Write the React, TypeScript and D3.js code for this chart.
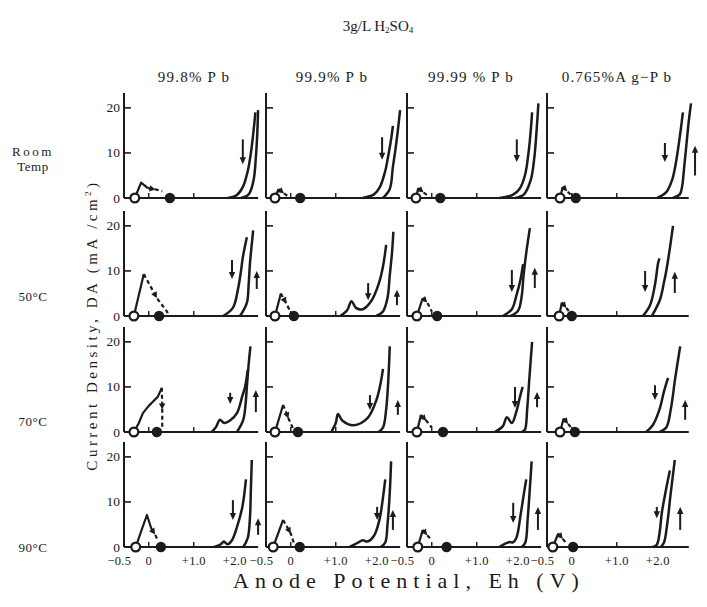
import * as d3 from "d3";

// column / row headings
const alloys = ["99.8% P b", "99.9% P b", "99.99 % P b", "0.765%A g−P b"];
const temps = [["Room", "Temp"], ["50°C"], ["70°C"], ["90°C"]];
const yTicks = [0, 10, 20];
const xTicks = [-0.5, 0, 1.0, 2.0];
const xTickLabels = ["−0.5", "0", "+1.0", "+2.0"];

type Pt = [number, number];

// start potential (open circle) and end potential (filled circle), [row][col]
const openE = [
  [-0.31, -0.35, -0.35, -0.26],
  [-0.33, -0.35, -0.33, -0.28],
  [-0.33, -0.35, -0.33, -0.26],
  [-0.29, -0.39, -0.31, -0.42],
];
const filledE = [
  [0.47, 0.21, 0.19, 0.09],
  [0.23, 0.07, 0.12, 0.0],
  [0.18, 0.16, 0.25, 0.07],
  [0.27, 0.2, 0.33, 0.03],
];

// low potential oxidation peak: solid rising part, dashed falling part
const peakRise: Pt[][][] = [
  [
    [[-0.31, 0], [-0.17, 3.4], [-0.02, 2.2]],
    [[-0.35, 0], [-0.27, 2.0]],
    [[-0.35, 0], [-0.3, 2.2]],
    [[-0.26, 0], [-0.2, 2.5]],
  ],
  [
    [[-0.33, 0], [-0.11, 9.3]],
    [[-0.35, 0], [-0.22, 5.0]],
    [[-0.33, 0], [-0.2, 4.0]],
    [[-0.28, 0], [-0.22, 3.0]],
  ],
  [
    [[-0.33, 0], [-0.22, 2.0], [-0.13, 4.2], [0.0, 5.8], [0.09, 6.7], [0.2, 7.8], [0.29, 9.8]],
    [[-0.35, 0], [-0.17, 6.0]],
    [[-0.33, 0], [-0.24, 3.8]],
    [[-0.26, 0], [-0.18, 3.0]],
  ],
  [
    [[-0.29, 0], [-0.15, 4.0], [-0.04, 7.1], [0.06, 4.0]],
    [[-0.39, 0], [-0.17, 6.0]],
    [[-0.31, 0], [-0.2, 3.8]],
    [[-0.42, 0], [-0.3, 3.0]],
  ],
];
const peakFall: Pt[][][] = [
  [
    [[-0.02, 2.2], [0.15, 1.9], [0.3, 1.5]],
    [[-0.27, 2.0], [-0.15, 1.0], [-0.05, 0.3]],
    [[-0.3, 2.2], [-0.18, 1.2], [-0.05, 0.3]],
    [[-0.2, 2.5], [-0.1, 1.5], [0.0, 0.5]],
  ],
  [
    [[-0.11, 9.3], [0.18, 4.0], [0.41, 0.9], [0.43, 0]],
    [[-0.22, 5.0], [-0.1, 2.8], [0.0, 0.8]],
    [[-0.2, 4.0], [-0.1, 3.0], [0.0, 1.0]],
    [[-0.22, 3.0], [-0.12, 1.8], [-0.02, 0.5]],
  ],
  [
    [[0.29, 9.8], [0.3, 5.0], [0.3, 1.0]],
    [[-0.17, 6.0], [-0.05, 3.0], [0.05, 0.8]],
    [[-0.24, 3.8], [-0.12, 2.5], [0.0, 1.0]],
    [[-0.18, 3.0], [-0.08, 1.8], [0.02, 0.5]],
  ],
  [
    [[0.06, 4.0], [0.14, 2.8], [0.2, 1.5]],
    [[-0.17, 6.0], [0.0, 3.0], [0.08, 0.5]],
    [[-0.2, 3.8], [-0.1, 2.6], [0.0, 1.5]],
    [[-0.3, 3.0], [-0.2, 1.8], [-0.1, 0.6]],
  ],
];

// oxygen evolution region, reverse (left) and forward (right) sweeps
const reverseSweep: Pt[][][] = [
  [
    [[1.75, 0], [1.95, 0.6], [2.09, 2.4], [2.2, 6], [2.27, 10], [2.33, 15], [2.37, 19]],
    [[1.6, 0], [1.85, 0.8], [1.98, 2.4], [2.1, 6], [2.16, 9], [2.23, 13], [2.27, 16]],
    [[1.5, 0], [1.8, 0.7], [1.95, 2], [2.07, 5], [2.15, 10], [2.2, 15], [2.23, 19]],
    [[1.9, 0], [2.1, 1.3], [2.23, 4], [2.3, 7], [2.36, 10.7], [2.42, 15], [2.47, 19]],
  ],
  [
    [[1.65, 0], [1.87, 1.8], [1.98, 5.8], [2.05, 10], [2.09, 13], [2.18, 17.5]],
    [[1.1, 0], [1.25, 1.2], [1.35, 3.3], [1.45, 1.8], [1.6, 1.5], [1.8, 3.5], [1.95, 7], [2.05, 11], [2.12, 15.8]],
    [[1.58, 0], [1.78, 1.5], [1.88, 4.5], [1.97, 8], [2.03, 11.5]],
    [[1.58, 0], [1.74, 2.4], [1.85, 7], [1.92, 11.8], [1.95, 12.8]],
  ],
  [
    [[1.4, 0], [1.5, 1.2], [1.58, 2.7], [1.68, 2], [1.8, 2.5], [1.96, 4.2], [2.08, 8], [2.14, 10], [2.2, 13.8]],
    [[0.9, 0], [1.0, 2], [1.05, 4], [1.15, 2.5], [1.4, 1.5], [1.7, 3], [1.9, 7], [2.0, 11], [2.05, 14]],
    [[1.4, 0], [1.58, 1.3], [1.67, 3.3], [1.78, 2.0], [1.88, 4.5], [1.96, 7.8], [2.02, 10]],
    [[1.65, 0], [1.8, 1.5], [1.95, 5], [2.05, 9], [2.14, 12]],
  ],
  [
    [[1.45, 0], [1.6, 0.6], [1.67, 1.2], [1.75, 0.6], [1.85, 1.5], [1.96, 4.4], [2.08, 8.9], [2.16, 15]],
    [[1.3, 0], [1.5, 1.0], [1.6, 1.5], [1.7, 1.2], [1.85, 2.5], [1.97, 6], [2.05, 11], [2.1, 15]],
    [[1.5, 0], [1.73, 1.1], [1.8, 1], [1.88, 2], [1.98, 7.5], [2.05, 12], [2.1, 15]],
    [[1.8, 0], [1.89, 0.5], [1.95, 3], [2.0, 7.5], [2.08, 12], [2.18, 17]],
  ],
];
const forwardSweep: Pt[][][] = [
  [
    [[2.05, 0], [2.22, 0.8], [2.33, 4], [2.38, 9], [2.41, 14], [2.43, 19.5]],
    [[2.05, 0], [2.2, 2], [2.27, 6.9], [2.33, 11], [2.38, 15], [2.43, 19.5]],
    [[1.85, 0], [2.05, 0.8], [2.2, 4], [2.28, 9], [2.33, 15], [2.37, 21]],
    [[2.25, 0], [2.4, 0.8], [2.45, 2.4], [2.5, 7], [2.55, 12], [2.6, 17], [2.65, 21]],
  ],
  [
    [[2.03, 0], [2.18, 2.9], [2.22, 7], [2.25, 11.8], [2.29, 16], [2.32, 19]],
    [[1.9, 0], [2.05, 1], [2.15, 4], [2.2, 9], [2.25, 14], [2.28, 18.7]],
    [[1.75, 0], [1.92, 1.2], [2.0, 4.5], [2.04, 9], [2.1, 14], [2.18, 19.5]],
    [[1.78, 0], [1.96, 3.6], [2.05, 7.5], [2.1, 10], [2.18, 15], [2.25, 20]],
  ],
  [
    [[1.96, 0], [2.1, 2.7], [2.15, 6], [2.18, 10], [2.22, 15], [2.26, 19]],
    [[1.95, 0], [2.05, 1], [2.12, 5], [2.17, 12], [2.2, 19]],
    [[2.0, 0], [2.07, 0.5], [2.12, 5], [2.17, 12], [2.23, 20]],
    [[1.95, 0], [2.1, 1], [2.2, 5], [2.3, 12], [2.41, 19]],
  ],
  [
    [[2.1, 0], [2.2, 2], [2.25, 6.7], [2.27, 13], [2.29, 19.3]],
    [[2.0, 0], [2.1, 1], [2.15, 5], [2.2, 12], [2.23, 19]],
    [[2.0, 0], [2.08, 1], [2.13, 6], [2.18, 13], [2.22, 19]],
    [[1.98, 0], [2.05, 1], [2.12, 5], [2.2, 12], [2.29, 19.3]],
  ],
];

// sweep direction arrows: [E, from, to]
const downArrows: number[][][] = [
  [[2.09, 13, 7.5], [2.03, 13.5, 8.5], [1.89, 13, 8], [2.07, 12.2, 8]],
  [[1.85, 12.4, 8.2], [1.72, 7.3, 3.5], [1.78, 10.2, 5.3], [1.63, 10, 5.3]],
  [[1.81, 8.7, 6.2], [1.76, 8.2, 4.9], [1.85, 10, 5.3], [1.85, 10.4, 7.1]],
  [[1.87, 10.4, 6], [1.92, 8.9, 6], [1.81, 9.8, 5.3], [1.89, 8.9, 6.4]],
];
const upArrows: (number[] | null)[][] = [
  [null, null, null, [2.74, 5, 11.6]],
  [[2.4, 6, 10], [2.36, 2.4, 5.8], [2.29, 6.2, 10.7], [2.29, 5.1, 9.8]],
  [[2.38, 4.4, 9.3], [2.38, 3.8, 7.1], [2.34, 5.5, 8.9], [2.52, 2.7, 7.1]],
  [[2.43, 2.7, 6.4], [2.27, 3.8, 8.2], [2.36, 3.8, 8.9], [2.41, 3.8, 8.9]],
];

// layout
const colX = [124, 266, 407, 547];
const rowBase = [198, 316, 432, 547];
const titleX = [194, 332, 471, 617];
const tempY = [156, 301, 426, 552];
const tickShift = [5, 0, 0, -4];
const ink = "#1b1b1b";
const serif = "'Liberation Serif', 'DejaVu Serif', serif";

const x = d3.scaleLinear().domain([-0.55, 2.45]).range([0, 135]);
const y = d3.scaleLinear().domain([0, 23.3]).range([0, -105]);

const smooth = d3
  .line<Pt>()
  .x((d) => x(d[0]))
  .y((d) => y(d[1]))
  .curve(d3.curveCatmullRom.alpha(0.5));
const straight = d3
  .line<Pt>()
  .x((d) => x(d[0]))
  .y((d) => y(d[1]));

function Arrow({ a, up }: { a: number[]; up: boolean }) {
  const px = x(a[0]);
  const y1 = y(a[1]);
  const y2 = y(a[2]);
  const dir = up ? -1 : 1;
  return (
    <g>
      <line x1={px} x2={px} y1={y1} y2={y2 - dir * 5} stroke={ink} strokeWidth={2} />
      <path d={`M${px - 3.2},${y2 - dir * 7}L${px + 3.2},${y2 - dir * 7}L${px},${y2}Z`} fill={ink} />
    </g>
  );
}

function Panel({ r, c }: { r: number; c: number }) {
  const fall = peakFall[r][c];
  const p1 = fall[0];
  const p2 = fall[1];
  const ang = (Math.atan2(y(p2[1]) - y(p1[1]), x(p2[0]) - x(p1[0])) * 180) / Math.PI;
  const xEnd = c === 3 ? 2.6 : 2.43;
  const up = upArrows[r][c];
  return (
    <g transform={`translate(${colX[c]},${rowBase[r]})`}>
      {/* axes */}
      <line x1={0} x2={0} y1={y(0)} y2={y(23.3)} stroke={ink} strokeWidth={2} />
      <line x1={0} x2={x(xEnd)} y1={0} y2={0} stroke={ink} strokeWidth={2} />
      {yTicks.slice(1).map((t) => (
        <line key={t} x1={0} x2={7} y1={y(t)} y2={y(t)} stroke={ink} strokeWidth={1.6} />
      ))}
      {[0, 1.0].map((t) => (
        <line key={t} x1={x(t)} x2={x(t)} y1={0} y2={-5} stroke={ink} strokeWidth={1.4} />
      ))}
      {c === 0 &&
        yTicks.map((t) => (
          <text key={t} x={-4} y={y(t) + 4.5} textAnchor="end" fontSize={13.5} fontFamily={serif} fill={ink}>
            {t}
          </text>
        ))}
      {r === 3 &&
        xTicks.map((t, i) => (
          <text
            key={t}
            x={x(t) + tickShift[i]}
            y={18}
            textAnchor={i === 0 ? "end" : "middle"}
            fontSize={12.5}
            letterSpacing={0.3}
            fontFamily={serif}
            fill={ink}
          >
            {xTickLabels[i]}
          </text>
        ))}
      {/* low potential peak */}
      <path d={straight(peakRise[r][c]) ?? ""} fill="none" stroke={ink} strokeWidth={2.2} strokeLinejoin="round" />
      <path d={straight(fall) ?? ""} fill="none" stroke={ink} strokeWidth={2.2} strokeDasharray="4,3" />
      <path d="M0,0L-6,-3.2L-6,3.2Z" fill={ink} transform={`translate(${x(p2[0])},${y(p2[1])}) rotate(${ang})`} />
      {/* oxygen evolution */}
      <path d={smooth(reverseSweep[r][c]) ?? ""} fill="none" stroke={ink} strokeWidth={2.5} />
      <path d={smooth(forwardSweep[r][c]) ?? ""} fill="none" stroke={ink} strokeWidth={2.5} />
      <Arrow a={downArrows[r][c]} up={false} />
      {up && <Arrow a={up} up={true} />}
      {/* potentials */}
      <circle cx={x(filledE[r][c])} cy={0} r={5.2} fill={ink} />
      <circle cx={x(openE[r][c])} cy={0} r={4.4} fill="#fff" stroke={ink} strokeWidth={2.2} />
    </g>
  );
}

export default function App() {
  const rows = [0, 1, 2, 3];
  const cols = [0, 1, 2, 3];
  return (
    <svg
      width={707}
      height={607}
      viewBox="0 0 707 607"
      style={{ position: "absolute", left: 0, top: 0, background: "#fff" }}
    >
      <text x={378} y={31} textAnchor="middle" fontSize={15} fontFamily={serif} fill={ink}>
        3g/L  H<tspan fontSize={9} dy={2}>2</tspan>
        <tspan dy={-2}>SO</tspan>
        <tspan fontSize={9} dy={2}>4</tspan>
      </text>
      {alloys.map((a, c) => (
        <text
          key={a}
          x={titleX[c]}
          y={82}
          textAnchor="middle"
          fontSize={15}
          letterSpacing={1.2}
          fontFamily={serif}
          fill={ink}
        >
          {a}
        </text>
      ))}
      {temps.map((t, r) =>
        t.map((s, k) => (
          <text
            key={r + s}
            x={33}
            y={tempY[r] + k * 15}
            textAnchor="middle"
            fontSize={13}
            letterSpacing={r === 0 && k === 0 ? 2.5 : 0.5}
            fontFamily={serif}
            fill={ink}
          >
            {s}
          </text>
        ))
      )}
      <text
        transform="translate(97,325) rotate(-90)"
        textAnchor="middle"
        fontSize={15}
        letterSpacing={3.5}
        fontFamily={serif}
        fill={ink}
      >
        Current Density, DA (mA /cm<tspan fontSize={9} dy={-6}>2</tspan>
        <tspan dy={6}>)</tspan>
      </text>
      <text x={409} y={588} textAnchor="middle" fontSize={22} letterSpacing={6} fontFamily={serif} fill={ink}>
        Anode Potential, Eh (V)
      </text>
      {rows.map((r) => cols.map((c) => <Panel key={`${r}-${c}`} r={r} c={c} />))}
    </svg>
  );
}
